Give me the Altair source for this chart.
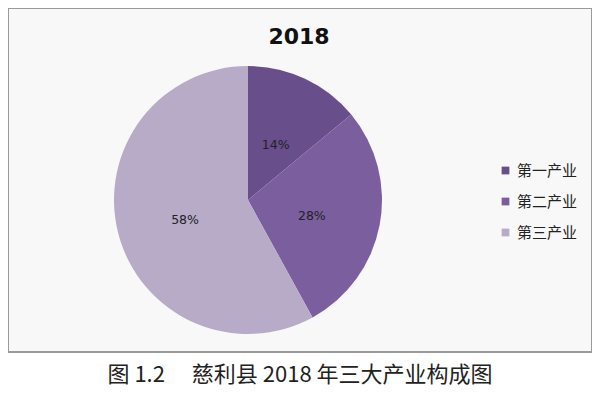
import altair as alt
import pandas as pd

categories = ["第一产业", "第二产业", "第三产业"]
shares = [14, 28, 58]
labels = ["14%", "28%", "58%"]
colors = ["#684E8A", "#7B5E9E", "#B8ABC8"]
chart_title = "2018"
caption = "图 1.2\u3000 慈利县 2018 年三大产业构成图"

df = pd.DataFrame({"cat": categories, "share": shares, "label": labels, "order": [0, 1, 2]})

CX, CY = 240, 192

base = alt.Chart(df).encode(
    theta=alt.Theta("share:Q", stack=True),
    order=alt.Order("order:Q"),
)

pie = base.mark_arc(outerRadius=134, stroke=None).encode(
    x=alt.value(CX),
    y=alt.value(CY),
    color=alt.Color(
        "cat:N",
        scale=alt.Scale(domain=categories, range=colors),
        sort=categories,
        legend=alt.Legend(
            title=None,
            orient="none",
            legendX=490,
            legendY=155,
            symbolType="square",
            symbolSize=60,
            symbolStrokeWidth=0,
            labelFontSize=15,
            labelFont="Noto Sans CJK SC",
            labelColor="#222222",
            labelOffset=4,
            rowPadding=15,
            symbolOffset=0,
        ),
    ),
)

text = base.mark_text(radius=65, dy=4, fontSize=12.5, font="DejaVu Sans", color="#222222").encode(
    x=alt.value(CX),
    y=alt.value(CY),
    text="label:N",
)

title_df = pd.DataFrame({"t": [chart_title]})
title_mark = alt.Chart(title_df).mark_text(
    fontSize=22, fontWeight="bold", font="DejaVu Sans", color="#111111"
).encode(x=alt.value(291), y=alt.value(29), text="t:N")

chart = (
    alt.layer(pie, text, title_mark)
    .properties(
        width=584,
        height=344,
        padding={"left": 0, "top": 0, "right": 0, "bottom": 0},
        title=alt.TitleParams(
            caption,
            orient="bottom",
            offset=13,
            fontSize=22,
            fontWeight="normal",
            font="Noto Sans CJK SC",
            color="#222222",
            anchor="middle",
        ),
    )
    .configure_view(stroke="#9A9A9A", strokeWidth=2, fill="#F8F8F8")
)

chart.save("out.html", embed_options={"renderer": "svg", "actions": False})
